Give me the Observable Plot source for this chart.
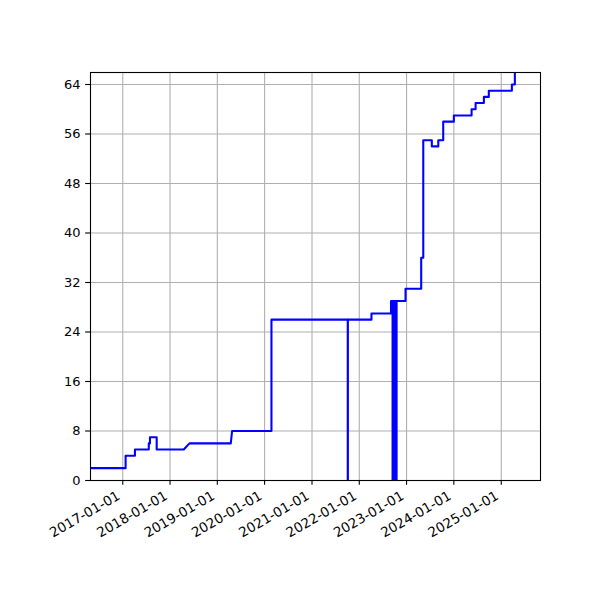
<!DOCTYPE html>
<html>
<head>
<meta charset="utf-8">
<script src="https://cdn.jsdelivr.net/npm/d3@7"></script>
<script src="https://cdn.jsdelivr.net/npm/@observablehq/plot@0.6"></script>
<style>
  html, body { margin: 0; padding: 0; background: #fff; }
  #chart { width: 600px; height: 600px; }
</style>
</head>
<body>
<div id="chart"></div>
<script>
// Vertices of the line (date, value)
const dates = [
  "2016-04-27","2017-01-23","2017-01-23","2017-04-05","2017-04-05",
  "2017-07-21","2017-07-21","2017-07-30","2017-07-30","2017-09-20","2017-09-20",
  "2018-04-17","2018-05-31","2019-04-15","2019-04-25",
  "2020-02-23","2020-02-23",
  "2021-10-04","2021-10-04","2021-10-05","2021-10-05",
  "2022-04-05","2022-04-05","2022-09-03","2022-09-03",
  "2022-09-15","2022-09-15","2022-09-16","2022-09-16",
  "2022-09-23","2022-09-23","2022-09-24","2022-09-24",
  "2022-10-01","2022-10-01","2022-10-02","2022-10-02",
  "2022-10-08","2022-10-08","2022-10-09","2022-10-09",
  "2022-10-15","2022-10-15","2022-10-16","2022-10-16",
  "2022-12-24","2022-12-24","2023-04-24","2023-04-24",
  "2023-05-10","2023-05-10","2023-07-15","2023-07-15",
  "2023-09-03","2023-09-03","2023-10-11","2023-10-11",
  "2024-01-01","2024-01-01","2024-05-17","2024-05-17",
  "2024-06-17","2024-06-17","2024-08-20","2024-08-20",
  "2024-09-27","2024-09-27","2025-03-24","2025-03-24",
  "2025-04-16","2025-04-16"
];
const values = [
  2,2,4,4,5,
  5,6,6,7,7,5,
  5,6,6,8,
  8,26,
  26,0,0,26,
  26,27,27,29,
  29,0,0,29,
  29,0,0,29,
  29,0,0,29,
  29,0,0,29,
  29,0,0,29,
  29,31,31,36,
  36,55,55,54,
  54,55,55,58,
  58,59,59,60,
  60,61,61,62,
  62,63,63,64,
  64,70
];
const yTicks = [0, 8, 16, 24, 32, 40, 48, 56, 64];
const xTickLabels = ["2017-01-01","2018-01-01","2019-01-01","2020-01-01","2021-01-01",
                     "2022-01-01","2023-01-01","2024-01-01","2025-01-01"];

const parse = d => new Date(d + "T00:00:00Z");
const data = dates.map((d, i) => ({date: parse(d), value: values[i]}));
const xTicks = xTickLabels.map(parse);
const fmt = d3.utcFormat("%Y-%m-%d");

const chart = Plot.plot({
  width: 600,
  height: 600,
  marginLeft: 90,
  marginRight: 60,
  marginTop: 72,
  marginBottom: 120,
  style: {fontFamily: "DejaVu Sans", fontSize: "13px", color: "black", background: "white"},
  x: {
    type: "utc",
    domain: [parse("2016-04-27"), parse("2025-10-31")],
    label: null
  },
  y: {
    domain: [0, 65.94],
    label: null
  },
  marks: [
    Plot.gridX(xTicks, {stroke: "#b0b0b0", strokeOpacity: 1, strokeWidth: 1.1}),
    Plot.gridY(yTicks, {stroke: "#b0b0b0", strokeOpacity: 1, strokeWidth: 1.1}),
    Plot.line(data, {x: "date", y: "value", stroke: "#0000ff", strokeWidth: 2.08, clip: true, curve: "linear"}),
    Plot.frame({stroke: "black", strokeWidth: 1.1}),
    Plot.axisX(xTicks, {fill: "none", tickFormat: () => "", tickSize: 4.86, stroke: "black", strokeWidth: 1.1, label: null}),
    Plot.text(xTicks, {
      x: d => d, frameAnchor: "bottom", text: d => fmt(d),
      rotate: -30, textAnchor: "end", lineAnchor: "top",
      dx: -6.5, dy: 9.7, fontSize: 13.5, fill: "black"
    }),
    Plot.axisY(yTicks, {tickSize: 4.86, tickPadding: 5, stroke: "black", strokeWidth: 1.1, fill: "black", fontSize: 13, label: null})
  ]
});
document.getElementById("chart").appendChild(chart);
</script>
</body>
</html>
